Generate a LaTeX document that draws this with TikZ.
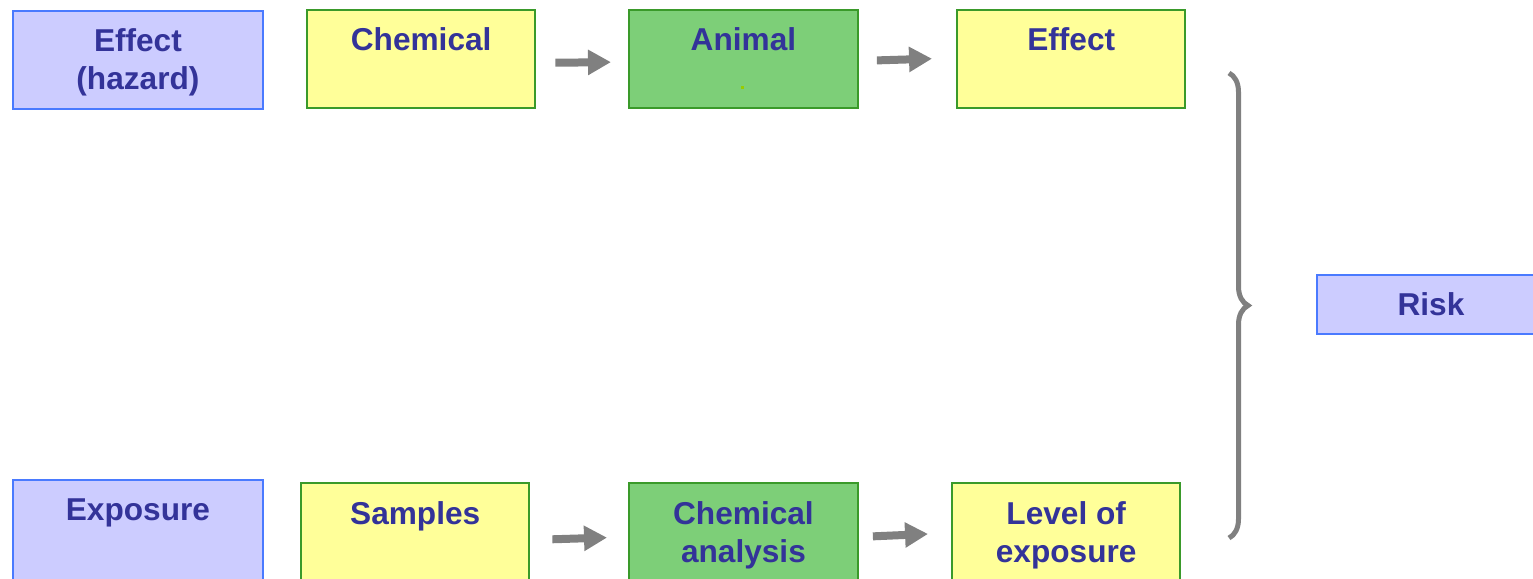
\documentclass[tikz,border=0pt]{standalone}
\usepackage{fontspec}
\setmainfont{Liberation Sans}
\usetikzlibrary{arrows.meta,decorations.pathreplacing}
\definecolor{bluefill}{HTML}{CCCCFF}
\definecolor{blueline}{HTML}{4A7AFF}
\definecolor{yelfill}{HTML}{FFFF99}
\definecolor{yelline}{HTML}{3A9A2A}
\definecolor{grnfill}{HTML}{7DCF78}
\definecolor{grnline}{HTML}{3A9A2A}
\definecolor{txtblue}{HTML}{333399}
\definecolor{dotgreen}{HTML}{99CC00}
\begin{document}
\begin{tikzpicture}[x=0.02cm,y=-0.02cm,
  box/.style={line width=1.1pt,anchor=north west,minimum height=1.96cm,inner sep=0pt},
  bluebox/.style={box,fill=bluefill,draw=blueline,minimum width=5cm},
  yelbox/.style={box,fill=yelfill,draw=yelline,minimum width=4.57cm},
  grnbox/.style={box,fill=grnfill,draw=grnline,minimum width=4.58cm},
  lbl/.style={anchor=north,inner sep=0pt,align=center,text=txtblue,
    font=\fontsize{18}{22}\selectfont\bfseries},
  flow/.style={gray,line width=0.16cm,-{Triangle[length=0.46cm,width=0.48cm]}},
  curly/.style={gray,line width=0.1cm,decorate,decoration={brace,amplitude=0.38cm}}]
\useasboundingbox (0,0) rectangle (1533,578);
%Effect row
\node[bluebox] (haz) at (12,10) {};
\node[yelbox] (chem) at (306,9) {};
\node[grnbox] (animal) at (628,9) {};
\node[yelbox] (effect) at (956,9) {};
\node[lbl] (haztxt) at ([yshift=-0.36cm]haz.north) {Effect\\(hazard)};
\node[lbl] (chemtxt) at ([yshift=-0.36cm]chem.north) {Chemical};
\node[lbl] (animaltxt) at ([yshift=-0.36cm]animal.north) {Animal};
\node[lbl] (effecttxt) at ([yshift=-0.36cm]effect.north) {Effect};
\fill[dotgreen] (741,86) rectangle (744,89);
%Exposure row
\node[bluebox,minimum height=2.4cm] (expo) at (12,479) {};
\node[yelbox,minimum height=2.4cm] (samples) at (300,482) {};
\node[grnbox,minimum height=2.4cm] (analysis) at (628,482) {};
\node[yelbox,minimum height=2.4cm] (level) at (951,482) {};
\node[lbl] (expotxt) at ([yshift=-0.38cm]expo.north) {Exposure};
\node[lbl] (samplestxt) at ([yshift=-0.38cm]samples.north) {Samples};
\node[lbl] (analysistxt) at ([yshift=-0.38cm]analysis.north) {Chemical\\analysis};
\node[lbl] (leveltxt) at ([yshift=-0.38cm]level.north) {Level of\\exposure};
%Risk
\node[bluebox,minimum width=4.56cm,minimum height=1.18cm] (risk) at (1316,274) {};
\node[lbl,anchor=center] (risktxt) at (risk.center) {Risk};
%Arrows
\draw[flow,shorten <=0.38cm,shorten >=0.34cm] ([yshift=-0.08cm]chem.east) -- ([yshift=-0.06cm]animal.west);
\draw[flow,shorten <=0.36cm,shorten >=0.48cm] ([yshift=-0.04cm]animal.east) -- ([yshift=0.02cm]effect.west);
\draw[flow,shorten <=0.44cm,shorten >=0.42cm] ([yshift=-0.16cm+0.22cm]samples.east) -- ([yshift=-0.1cm+0.22cm]analysis.west);
\draw[flow,shorten <=0.28cm,shorten >=0.46cm] ([yshift=-0.1cm+0.22cm]analysis.east) -- ([yshift=-0.02cm+0.22cm]level.west);
%Brace
\coordinate (bracetop) at (1229,73);
\coordinate (bracebot) at (1229,538);
\draw[curly] (bracetop) -- (bracebot);
\end{tikzpicture}
\end{document}
